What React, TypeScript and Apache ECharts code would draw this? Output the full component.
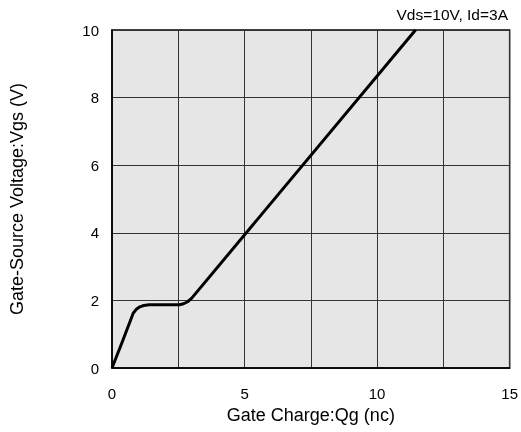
import React, { useEffect, useRef } from "react";
import * as echarts from "echarts";

const qg: number[] = [0, 0.4, 0.8, 0.92, 1.05, 1.2, 1.4, 2.0, 2.55, 2.7, 2.85, 3.0, 11.45];
const vgs: number[] = [0, 0.8, 1.62, 1.74, 1.81, 1.85, 1.87, 1.87, 1.87, 1.9, 1.96, 2.06, 10];
const xTicks: number[] = [0, 5, 10, 15];
const conditionText = "Vds=10V, Id=3A";

export default function App() {
  const ref = useRef<HTMLDivElement>(null);
  useEffect(() => {
    if (!ref.current) return;
    const chart = echarts.init(ref.current, null, { renderer: "svg" });
    const font = "Liberation Sans, Arial, Helvetica, sans-serif";
    chart.setOption({
      animation: false,
      textStyle: { fontFamily: font },
      title: {
        text: conditionText,
        right: 13,
        top: 6,
        padding: 0,
        textStyle: { fontSize: 15.5, fontWeight: "normal", color: "#000", fontFamily: font },
      },
      grid: {
        left: 110,
        right: 9,
        top: 30,
        bottom: 64,
        show: true,
        backgroundColor: "#e6e6e6",
        borderColor: "#000",
        borderWidth: 1.5,
      },
      xAxis: {
        type: "value",
        min: 0,
        max: 15,
        interval: 2.5,
        name: "Gate Charge:Qg (nc)",
        nameLocation: "middle",
        nameGap: 31,
        nameTextStyle: { fontSize: 18, color: "#000", fontFamily: font },
        axisLine: { show: true, lineStyle: { color: "#000", width: 1.5 } },
        axisTick: { show: false },
        splitLine: { show: true, lineStyle: { color: "#333", width: 1 } },
        axisLabel: {
          margin: 18,
          fontSize: 15,
          color: "#000",
          fontFamily: font,
          formatter: (v: number) => (xTicks.includes(v) ? String(v) : ""),
        },
      },
      yAxis: {
        type: "value",
        min: 0,
        max: 10,
        interval: 2,
        name: "Gate-Source Voltage:Vgs (V)",
        nameLocation: "middle",
        nameGap: 86,
        nameTextStyle: { fontSize: 18, color: "#000", fontFamily: font },
        axisLine: { show: true, lineStyle: { color: "#000", width: 1.5 } },
        axisTick: { show: false },
        splitLine: { show: true, lineStyle: { color: "#333", width: 1 } },
        axisLabel: { margin: 13, fontSize: 15, color: "#000", fontFamily: font },
      },
      series: [
        {
          type: "line",
          data: qg.map((x, i) => [x, vgs[i]]),
          showSymbol: false,
          smooth: false,
          lineStyle: { color: "#000", width: 3 },
          clip: true,
        },
      ],
    });
    return () => chart.dispose();
  }, []);
  return (
    <div
      ref={ref}
      style={{ position: "fixed", left: 0, top: 0, width: 521, height: 432 }}
    />
  );
}
